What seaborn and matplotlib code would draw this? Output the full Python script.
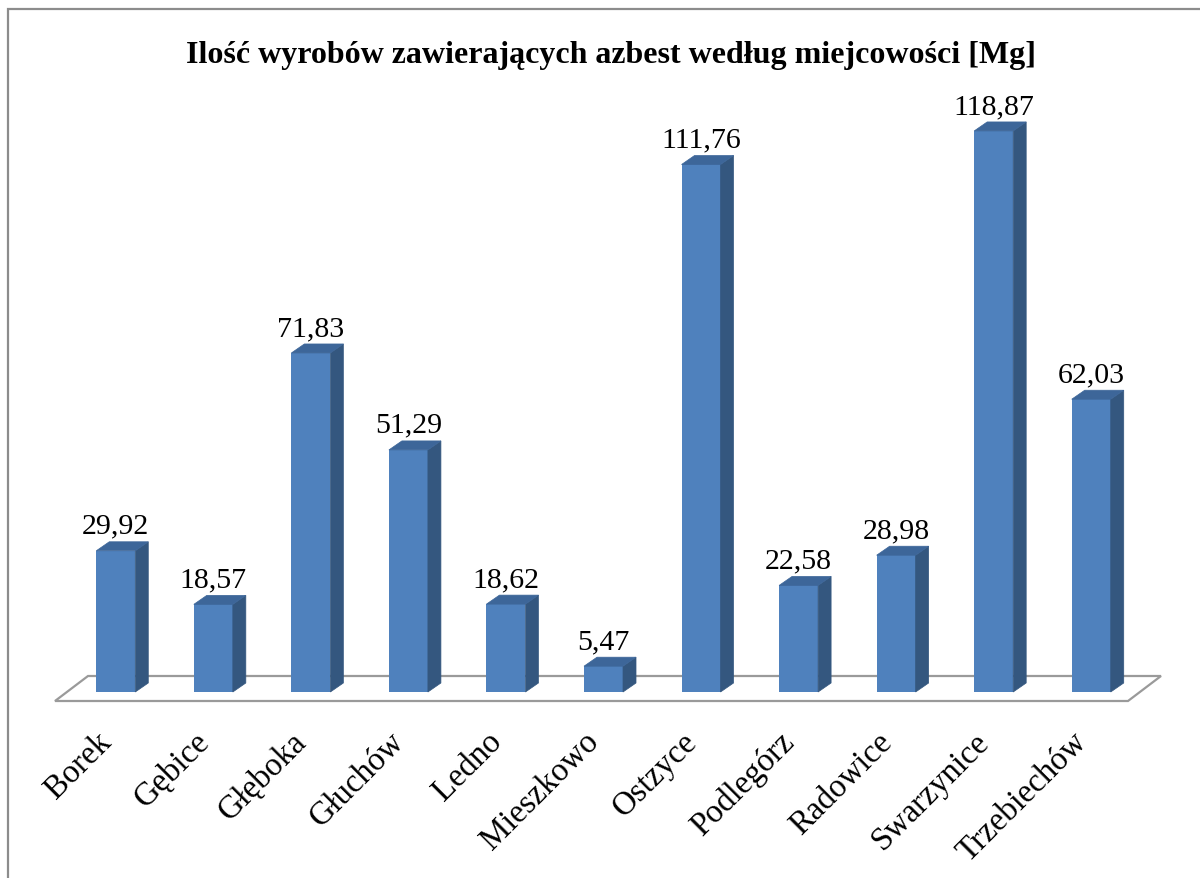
import numpy as np
import pandas as pd
import seaborn as sns
import matplotlib
matplotlib.use("Agg")
import matplotlib.pyplot as plt
from matplotlib.patches import Polygon, Rectangle
from matplotlib.transforms import ScaledTranslation

# data
places = ["Borek", "Gębice", "Głęboka", "Głuchów", "Ledno", "Mieszkowo",
          "Ostzyce", "Podlegórz", "Radowice", "Swarzynice", "Trzebiechów"]
amounts = [29.92, 18.57, 71.83, 51.29, 18.62, 5.47,
           111.76, 22.58, 28.98, 118.87, 62.03]
title = "Ilość wyrobów zawierających azbest według miejcowości [Mg]"

front = "#4F81BD"
side = "#34577F"
top = "#3D6699"

sns.set_theme(style="white")
plt.rcParams["font.family"] = ["Liberation Serif", "DejaVu Serif"]

fig = plt.figure(figsize=(12, 8.79), dpi=100)
W, H = 1200, 879
ax = fig.add_axes([67 / W, (H - 693) / H, 1073 / W, 590 / H])

df = pd.DataFrame({"place": places, "amount": amounts})
sns.barplot(data=df, x="place", y="amount", color=front, saturation=1,
            width=0.4, ax=ax, zorder=3, linewidth=0)
ax.set_xlim(-0.5, 10.5)
ax.set_ylim(0, 125)
ax.set_xlabel("")
ax.set_ylabel("")
ax.set_yticks([])
sns.despine(ax=ax, left=True, bottom=True)

# pixel -> data scale for the depth effect
p0 = ax.transData.transform((0, 0))
p1 = ax.transData.transform((1, 1))
sx, sy = p1[0] - p0[0], p1[1] - p0[1]
ddx, ddy = 13 / sx, 9 / sy

# floor of the 3d chart
fx0, fy0 = -12 / sx, -9 / sy
fx1, fy1 = 21 / sx, 16 / sy
floor = Polygon([(-0.5 + fx0, fy0), (10.5 + fx0, fy0), (10.5 + fx1, fy1), (-0.5 + fx1, fy1)],
                closed=True, fill=False, edgecolor="#9A9A9A", linewidth=1.6,
                clip_on=False, zorder=1)
ax.add_patch(floor)

for bar, val in zip(ax.patches[:len(amounts)], amounts):
    x0 = bar.get_x()
    x1 = x0 + bar.get_width()
    h = bar.get_height()
    ax.add_patch(Polygon([(x1, 0), (x1 + ddx, ddy), (x1 + ddx, h + ddy), (x1, h)],
                         closed=True, facecolor=side, edgecolor=side, lw=0.5,
                         clip_on=False, zorder=3))
    ax.add_patch(Polygon([(x0, h), (x1, h), (x1 + ddx, h + ddy), (x0 + ddx, h + ddy)],
                         closed=True, facecolor=top, edgecolor=top, lw=0.5,
                         clip_on=False, zorder=3))
    ax.annotate(f"{val:.2f}".replace(".", ","), (x0 + bar.get_width() / 2, h),
                xytext=(0, 13), textcoords="offset points",
                ha="center", va="baseline", fontsize=21.5, color="black",
                annotation_clip=False)

ax.tick_params(axis="x", length=0, pad=30, labelsize=23.5, labelcolor="black")
shift = ScaledTranslation(-0.09, -0.03, fig.dpi_scale_trans)
for lab in ax.get_xticklabels():
    lab.set_rotation(45)
    lab.set_ha("right")
    lab.set_va("center")
    lab.set_rotation_mode("anchor")
    lab.set_transform(lab.get_transform() + shift)

fig.text(611 / W, 1 - 56 / H, title, ha="center", va="center",
         fontsize=23, fontweight="bold", color="black")

# outer chart border (only left and top are inside the picture)
fig.patches.append(Rectangle((8 / W, -0.05), 1.1, 1 - 10 / H + 0.05,
                             transform=fig.transFigure, fill=False,
                             edgecolor="#8C8C8C", linewidth=1.6))

fig.savefig("out.png", dpi=100)
